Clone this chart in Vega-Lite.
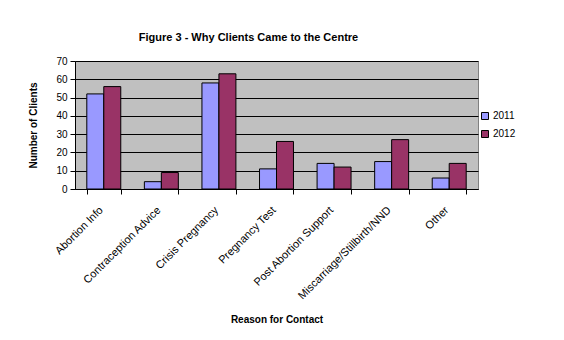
{
  "$schema": "https://vega.github.io/schema/vega-lite/v6.json",
  "width": 403,
  "height": 128,
  "padding": {"left": 28, "top": 32, "right": 5, "bottom": 5},
  "background": "white",
  "title": {
    "text": "Figure 3 - Why Clients Came to the Centre",
    "font": "Liberation Sans",
    "fontSize": 11,
    "fontWeight": "bold",
    "color": "black",
    "offset": 13,
    "dx": -28
  },
  "data": {
    "values": [
      {"reason": "Abortion Info", "year": "2011", "clients": 52},
      {"reason": "Abortion Info", "year": "2012", "clients": 56},
      {"reason": "Contraception Advice", "year": "2011", "clients": 4},
      {"reason": "Contraception Advice", "year": "2012", "clients": 9},
      {"reason": "Crisis Pregnancy", "year": "2011", "clients": 58},
      {"reason": "Crisis Pregnancy", "year": "2012", "clients": 63},
      {"reason": "Pregnancy Test", "year": "2011", "clients": 11},
      {"reason": "Pregnancy Test", "year": "2012", "clients": 26},
      {"reason": "Post Abortion Support", "year": "2011", "clients": 14},
      {"reason": "Post Abortion Support", "year": "2012", "clients": 12},
      {"reason": "Miscarriage/Stillbirth/NND", "year": "2011", "clients": 15},
      {"reason": "Miscarriage/Stillbirth/NND", "year": "2012", "clients": 27},
      {"reason": "Other", "year": "2011", "clients": 6},
      {"reason": "Other", "year": "2012", "clients": 14}
    ]
  },
  "mark": {"type": "bar", "stroke": "black", "strokeWidth": 1},
  "encoding": {
    "x": {
      "field": "reason",
      "type": "nominal",
      "sort": null,
      "scale": {"paddingInner": 0.41, "paddingOuter": 0.205},
      "axis": {
        "title": "Reason for Contact",
        "labelAngle": -45,
        "labelAlign": "right",
        "labelBaseline": "top",
        "labelPadding": 10,
        "labelOffset": -7,
        "labelFontSize": 11,
        "tickBand": "extent",
        "tickSize": 5,
        "titlePadding": 14,
        "grid": false
      }
    },
    "xOffset": {"field": "year", "type": "nominal"},
    "y": {
      "field": "clients",
      "type": "quantitative",
      "scale": {"domain": [0, 70]},
      "axis": {
        "title": "Number of Clients",
        "values": [0, 10, 20, 30, 40, 50, 60, 70],
        "tickSize": 5,
        "labelPadding": 3,
        "titlePadding": 17,
        "grid": true
      }
    },
    "color": {
      "field": "year",
      "type": "nominal",
      "scale": {"range": ["#9999FF", "#993366"]},
      "legend": {
        "title": null,
        "orient": "none",
        "legendX": 405,
        "legendY": 50,
        "symbolType": "square",
        "symbolSize": 49,
        "symbolStrokeColor": "black",
        "symbolStrokeWidth": 1,
        "symbolOpacity": 1,
        "labelFontSize": 10,
        "labelFont": "Liberation Sans",
        "labelColor": "black",
        "rowPadding": 6,
        "labelOffset": 3
      }
    }
  },
  "config": {
    "font": "Liberation Sans",
    "view": {"fill": "#C0C0C0", "stroke": "#808080", "strokeWidth": 1},
    "axis": {
      "labelFont": "Liberation Sans",
      "labelFontSize": 10,
      "labelColor": "black",
      "titleFont": "Liberation Sans",
      "titleFontSize": 10,
      "titleFontWeight": "bold",
      "titleColor": "black",
      "domainColor": "black",
      "tickColor": "black",
      "gridColor": "black",
      "gridWidth": 1,
      "gridOpacity": 1
    }
  }
}
